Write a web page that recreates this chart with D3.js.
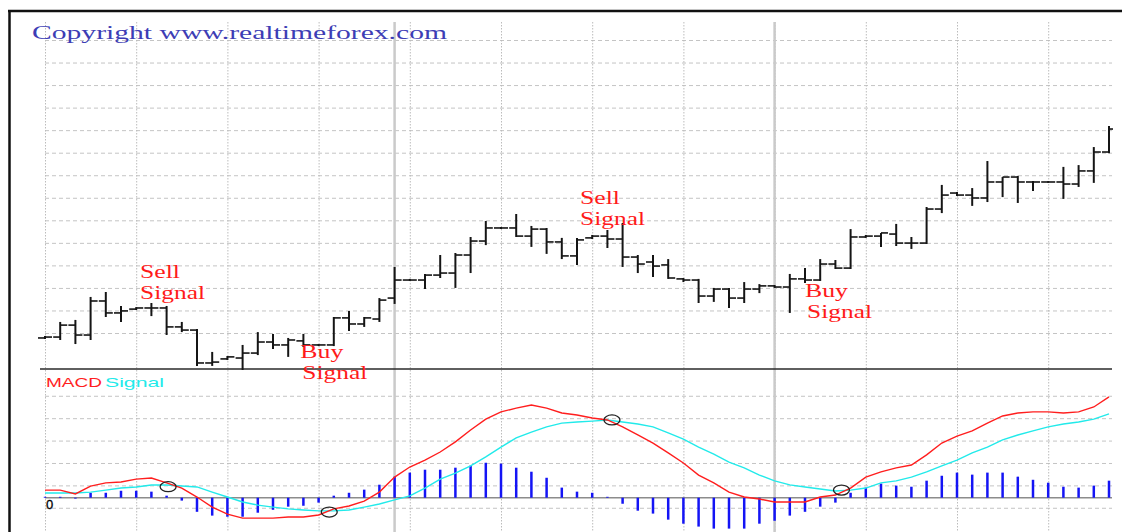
<!DOCTYPE html>
<html>
<head>
<meta charset="utf-8">
<script src="https://cdn.jsdelivr.net/npm/d3@7"></script>
<style>
  body { margin: 0; background: #fff; }
  svg { display: block; }
</style>
</head>
<body>
<div id="chart"></div>
<script>
// price bars (one per period)
const OPEN = [97.8, 98.2, 103.5, 99.1, 114.2, 108.9, 110.6, 111.1, 111.1, 102.7,
  101.3, 86.7, 88.5, 88.9, 91.1, 96.0, 94.7, 96.5, 94.7, 94.7,
  106.7, 104.0, 106.2, 115.5, 123.5, 123.5, 125.7, 126.6, 134.6, 140.8,
  146.6, 146.6, 143.0, 146.1, 140.4, 134.2, 142.2, 143.0, 141.7, 133.7,
  131.5, 130.2, 124.0, 123.5, 116.4, 119.5, 115.5, 119.5, 120.9, 120.4,
  124.0, 123.5, 130.6, 128.8, 142.6, 143.0, 143.9, 139.9, 139.9, 155.0,
  162.1, 161.2, 159.9, 167.0, 169.2, 167.0, 167.0, 167.0, 166.1, 171.9, 180.3];
const HIGH = [98.7, 104.9, 105.8, 116.0, 118.2, 112.0, 111.5, 113.3, 112.0, 104.9,
  101.8, 91.6, 89.8, 94.7, 100.4, 99.6, 97.8, 99.6, 95.1, 107.1,
  109.8, 107.1, 115.5, 129.3, 124.0, 126.2, 134.6, 135.5, 142.6, 149.7,
  147.0, 152.8, 147.5, 146.6, 142.2, 142.2, 143.5, 145.7, 148.8, 134.6,
  134.6, 132.8, 124.4, 124.0, 120.0, 120.0, 122.6, 121.7, 121.3, 126.2,
  128.8, 132.8, 132.4, 146.1, 143.5, 144.4, 148.4, 142.6, 155.9, 165.7,
  162.6, 164.3, 176.3, 169.2, 169.7, 167.4, 167.4, 173.7, 174.5, 182.5, 191.8];
const LOW = [97.3, 96.9, 95.1, 96.9, 107.1, 104.9, 110.2, 107.5, 99.1, 100.4,
  85.4, 85.4, 88.0, 83.6, 90.2, 92.9, 89.4, 93.8, 94.2, 94.2,
  100.9, 102.7, 104.9, 112.9, 123.1, 119.5, 124.4, 120.0, 126.6, 139.0,
  146.1, 142.6, 138.2, 135.1, 132.8, 130.2, 141.7, 137.7, 129.3, 126.6,
  124.8, 124.0, 122.6, 113.3, 113.8, 111.1, 113.3, 117.7, 120.0, 108.9,
  122.2, 123.1, 128.4, 128.4, 142.2, 138.2, 138.6, 137.3, 139.5, 153.2,
  160.8, 156.4, 158.1, 160.3, 157.7, 163.0, 166.6, 159.5, 164.8, 166.6, 179.8];
const CLOSE = [98.2, 103.5, 99.1, 114.2, 108.9, 109.8, 111.1, 111.1, 102.7, 101.3,
  86.7, 87.1, 89.4, 91.1, 96.0, 94.7, 96.9, 94.7, 94.7, 106.7,
  104.0, 106.7, 114.6, 123.5, 123.5, 125.7, 126.6, 134.6, 140.8, 146.6,
  146.6, 143.0, 146.1, 140.4, 134.2, 141.3, 143.0, 141.7, 133.7, 130.6,
  129.7, 124.4, 123.5, 116.4, 119.5, 115.5, 119.5, 120.9, 120.4, 124.0,
  123.5, 130.6, 128.8, 142.6, 143.0, 144.4, 139.9, 139.9, 155.0, 161.2,
  161.2, 159.9, 167.0, 169.2, 167.0, 167.0, 167.0, 166.1, 171.9, 180.3, 190.5];

// MACD panel
const MACD = [3.4, 3.4, 1.7, 5.2, 6.6, 7.0, 8.3, 8.8, 6.6, 4.3,
  0.3, -4.2, -7.3, -9.1, -9.1, -9.1, -8.6, -8.6, -7.7, -5.0,
  -3.7, -1.5, 2.5, 9.2, 13.7, 16.8, 20.4, 24.9, 30.2, 35.1,
  38.3, 40.0, 41.4, 40.0, 37.8, 36.9, 35.6, 34.7, 31.6, 28.0,
  24.4, 20.0, 15.5, 10.1, 6.6, 2.5, 0.3, -0.6, -1.9, -1.9,
  -1.9, 0.3, 1.2, 4.3, 9.2, 11.5, 13.3, 14.6, 19.1, 24.4,
  27.5, 29.8, 33.3, 36.5, 37.8, 38.3, 38.3, 37.8, 38.3, 40.5, 45.0];
const SIGNAL = [2.1, 2.1, 2.1, 2.5, 3.4, 4.3, 4.8, 5.7, 5.7, 5.2,
  4.8, 2.5, 0.3, -1.9, -3.3, -4.2, -5.0, -5.5, -5.9, -5.9,
  -5.5, -4.2, -2.8, -1.0, 0.8, 4.3, 8.3, 11.0, 14.2, 18.2,
  22.6, 26.7, 29.3, 31.6, 33.3, 33.8, 34.2, 34.7, 33.8, 32.9,
  31.6, 28.9, 26.2, 22.6, 19.5, 15.9, 13.3, 10.1, 7.5, 5.7,
  4.8, 3.9, 3.0, 3.4, 4.3, 6.6, 7.5, 9.2, 11.5, 14.2,
  16.8, 20.0, 22.6, 25.8, 28.0, 29.8, 31.6, 32.9, 33.8, 35.1, 37.4];
const HIST = [0.4, 0.4, -0.4, 2.2, 2.2, 3.1, 3.1, 2.7, 0.9, -1.3,
  -6.3, -8.0, -8.5, -8.5, -6.7, -5.4, -4.0, -3.6, -2.2, 0.9,
  2.2, 3.6, 5.8, 9.4, 11.2, 12.5, 12.5, 13.4, 14.3, 15.6,
  15.2, 13.4, 11.6, 8.9, 4.5, 2.7, 2.2, 0.4, -2.7, -5.8,
  -7.1, -9.8, -11.6, -12.9, -13.8, -13.8, -13.8, -11.6, -10.3, -8.0,
  -6.3, -4.0, -2.2, 2.2, 4.5, 6.3, 5.4, 4.9, 7.6, 9.8,
  11.2, 10.3, 11.2, 11.2, 9.4, 8.0, 6.7, 4.9, 4.5, 5.4, 7.6];

// crossovers that are circled
const CROSS_BAR = [8.1, 18.7, 37.3, 52.4];
const CROSS_VAL = [4.9, -6.4, 34.7, 3.4];

// signal labels
const SIG_TEXT = ["Sell", "Buy", "Sell", "Buy"];
const SIG_BAR = [6.25, 16.8, 35.2, 50.0];
const SIG_PRICE = [124.4, 88.9, 157.2, 116.0];

// grid
const PRICE_GRID = [100, 110, 120, 130, 140, 150, 160, 170, 180, 190, 200, 210, 220, 230];
const MACD_GRID = [-4.5, 5.5, 15.5, 25.5, 35.5, 45.5];
const GRID_BARS = [0, 6, 12, 18, 24, 30, 36, 42, 48, 54, 60, 66];
const DAY_BARS = [23, 48];

let W = 1122, H = 532;
let left = 45, right = 1112;

let svg = d3.select("#chart").append("svg")
  .attr("width", W)
  .attr("height", H);

let x = d3.scaleLinear().domain([0, OPEN.length - 1]).range([45, 1109]);
let y = d3.scaleLinear().domain([100, 230]).range([333, 40]);
let ym = d3.scaleLinear().domain([0, 10]).range([497.7, 475.3]);

svg.append("clipPath").attr("id", "plot")
  .append("rect").attr("x", 38).attr("y", 14).attr("width", right - 38 + 1).attr("height", H);

// horizontal dashed grid, price panel
let gy = svg.append("g")
  .attr("transform", "translate(" + left + ",0)")
  .call(d3.axisLeft(y).tickValues(PRICE_GRID).tickSize(-(right - left)).tickFormat(""));
// horizontal dashed grid, MACD panel
let gm = svg.append("g")
  .attr("transform", "translate(" + left + ",0)")
  .call(d3.axisLeft(ym).tickValues(MACD_GRID).tickSize(-(right - left)).tickFormat(""));
[gy, gm].forEach(function(g) {
  g.select(".domain").remove();
  g.selectAll("line").attr("stroke", "#c4c4c4").attr("stroke-dasharray", "4,3");
});

// vertical dotted grid
let gx = svg.append("g")
  .attr("transform", "translate(0,22)")
  .call(d3.axisTop(x).tickValues(GRID_BARS).tickSize(-(H - 22)).tickFormat(""));
gx.select(".domain").remove();
gx.selectAll("line").attr("stroke", "#bcbcbc").attr("stroke-dasharray", "1.5,1.5");

// day separators
svg.append("g").selectAll("line")
  .data(DAY_BARS)
  .enter().append("line")
    .attr("x1", function(d) { return x(d); })
    .attr("x2", function(d) { return x(d); })
    .attr("y1", 22).attr("y2", H)
    .attr("stroke", "#cacaca")
    .attr("stroke-width", 2.5);

// zero line of MACD
svg.append("line")
  .attr("x1", left).attr("x2", right)
  .attr("y1", ym(0)).attr("y2", ym(0))
  .attr("stroke", "#8c8c8c").attr("stroke-width", 1.5);

// panel separator
svg.append("line")
  .attr("x1", 40).attr("x2", right)
  .attr("y1", 369).attr("y2", 369)
  .attr("stroke", "#2a2a2a").attr("stroke-width", 1.5);

let plot = svg.append("g").attr("clip-path", "url(#plot)");

// histogram
plot.append("g").selectAll("line")
  .data(HIST)
  .enter().append("line")
    .attr("x1", function(d, i) { return x(i); })
    .attr("x2", function(d, i) { return x(i); })
    .attr("y1", ym(0))
    .attr("y2", function(d) { return ym(d); })
    .attr("stroke", "#1414f5")
    .attr("stroke-width", 2.5);

let line = d3.line()
  .x(function(d, i) { return x(i); })
  .y(function(d) { return ym(d); });

plot.append("path").datum(SIGNAL)
  .attr("d", line)
  .attr("fill", "none")
  .attr("stroke", "#22eaea")
  .attr("stroke-width", 1.4);

plot.append("path").datum(MACD)
  .attr("d", line)
  .attr("fill", "none")
  .attr("stroke", "#ff1e1e")
  .attr("stroke-width", 1.4);

// OHLC bars
let bars = plot.append("g").selectAll("g")
  .data(OPEN.map(function(o, i) { return {o: o, h: HIGH[i], l: LOW[i], c: CLOSE[i], i: i}; }))
  .enter().append("g")
    .attr("stroke", "#151515");

bars.append("line")
  .attr("x1", function(d) { return x(d.i); })
  .attr("x2", function(d) { return x(d.i); })
  .attr("y1", function(d) { return y(d.h); })
  .attr("y2", function(d) { return y(d.l); })
  .attr("stroke-width", 2);
bars.append("line")
  .attr("x1", function(d) { return x(d.i) - 7; })
  .attr("x2", function(d) { return x(d.i); })
  .attr("y1", function(d) { return y(d.o); })
  .attr("y2", function(d) { return y(d.o); })
  .attr("stroke-width", 1.6);
bars.append("line")
  .attr("x1", function(d) { return x(d.i); })
  .attr("x2", function(d) { return x(d.i) + 7; })
  .attr("y1", function(d) { return y(d.c); })
  .attr("y2", function(d) { return y(d.c); })
  .attr("stroke-width", 1.6);

// crossover circles
svg.append("g").selectAll("ellipse")
  .data(CROSS_BAR)
  .enter().append("ellipse")
    .attr("cx", function(d) { return x(d); })
    .attr("cy", function(d, i) { return ym(CROSS_VAL[i]); })
    .attr("rx", 8).attr("ry", 5)
    .attr("fill", "none")
    .attr("stroke", "#222")
    .attr("stroke-width", 1.3);

// frame
svg.append("line")
  .attr("x1", 8).attr("x2", W).attr("y1", 11).attr("y2", 11)
  .attr("stroke", "#111").attr("stroke-width", 2.5);
svg.append("line")
  .attr("x1", 9.5).attr("x2", 9.5).attr("y1", 10).attr("y2", H)
  .attr("stroke", "#111").attr("stroke-width", 2.5);

// texts
svg.append("text")
  .attr("x", 32).attr("y", 39)
  .attr("textLength", 415).attr("lengthAdjust", "spacingAndGlyphs")
  .style("font", "18px 'Liberation Serif', serif")
  .attr("fill", "#3d3db5")
  .text("Copyright www.realtimeforex.com");

let sig = svg.append("g").selectAll("g")
  .data(SIG_TEXT)
  .enter().append("g")
    .style("font", "18px 'Liberation Serif', serif")
    .attr("fill", "#ff1a1a");
sig.append("text")
  .attr("x", function(d, i) { return x(SIG_BAR[i]); })
  .attr("y", function(d, i) { return y(SIG_PRICE[i]); })
  .attr("textLength", function(d) { return d == "Buy" ? 43 : 40; })
  .attr("lengthAdjust", "spacingAndGlyphs")
  .text(function(d) { return d; });
sig.append("text")
  .attr("x", function(d, i) { return x(SIG_BAR[i]) + (d == "Buy" ? 2 : 0); })
  .attr("y", function(d, i) { return y(SIG_PRICE[i]) + 21; })
  .attr("textLength", 65)
  .attr("lengthAdjust", "spacingAndGlyphs")
  .text("Signal");

svg.append("text")
  .attr("x", 46).attr("y", 387)
  .attr("textLength", 56).attr("lengthAdjust", "spacingAndGlyphs")
  .style("font", "13px 'Liberation Sans', Arial, sans-serif")
  .attr("fill", "#ff1e1e")
  .text("MACD");
svg.append("text")
  .attr("x", 105).attr("y", 387)
  .attr("textLength", 59).attr("lengthAdjust", "spacingAndGlyphs")
  .style("font", "13px 'Liberation Sans', Arial, sans-serif")
  .attr("fill", "#22eaea")
  .text("Signal");

svg.append("text")
  .attr("x", 46).attr("y", 509)
  .style("font", "13px 'Liberation Sans', Arial, sans-serif")
  .attr("fill", "#000")
  .attr("stroke", "#000").attr("stroke-width", 0.3)
  .text("0");
</script>
</body>
</html>
